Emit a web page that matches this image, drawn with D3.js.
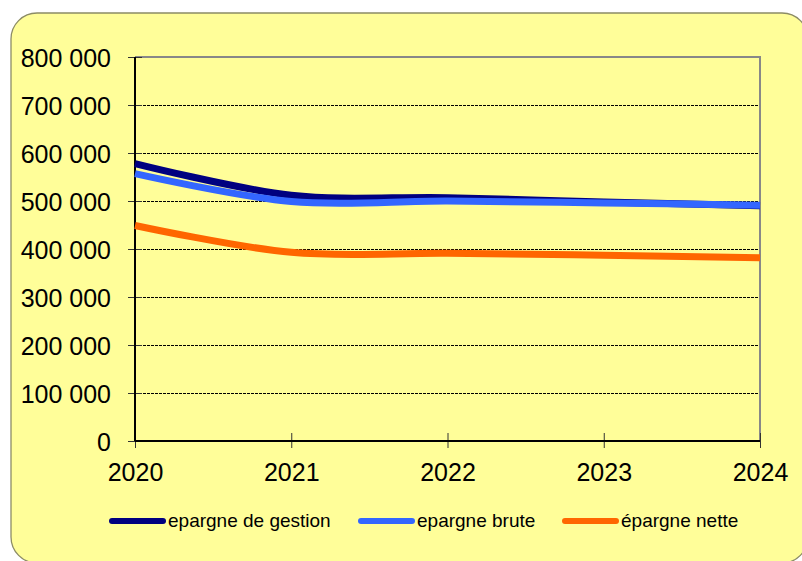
<!DOCTYPE html>
<html>
<head>
<meta charset="utf-8">
<script src="https://cdn.jsdelivr.net/npm/d3@7"></script>
<style>
  html, body { margin: 0; padding: 0; background: #ffffff; }
  svg { display: block; }
  text { font-family: "Liberation Sans", Arial, sans-serif; fill: #000; }
</style>
</head>
<body>
<svg id="chart" width="802" height="561"></svg>
<script>
// Years on the horizontal axis
const years = [2020, 2021, 2022, 2023, 2024];

// Savings series (euros)
const epargneGestion = [578000, 512000, 507000, 498000, 490000];
const epargneBrute   = [557000, 499000, 500000, 496000, 491000];
const epargneNette   = [449000, 393000, 391000, 387000, 382000];

// Series names and y-axis ticks
const seriesNames = ["epargne de gestion", "epargne brute", "épargne nette"];
const yTicks = [0, 100000, 200000, 300000, 400000, 500000, 600000, 700000, 800000];

const colors = ["#000080", "#3366FF", "#FF6600"];

const svg = d3.select("#chart");

// Panel background
svg.append("rect")
  .attr("x", 11).attr("y", 13)
  .attr("width", 797).attr("height", 550)
  .attr("rx", 26).attr("ry", 26)
  .attr("fill", "#FFFE99")
  .attr("stroke", "#8c8c66")
  .attr("stroke-width", 1.3);

const plotLeft = 135, plotRight = 760, plotTop = 57, plotBottom = 441;

const x = d3.scaleLinear().domain([2020, 2024]).range([plotLeft, plotRight]);
const y = d3.scaleLinear().domain([0, 800000]).range([plotBottom, plotTop]);

const fr = d3.formatLocale({ decimal: ",", thousands: " ", grouping: [3], currency: ["", " €"] });
const fmt = fr.format(",.0f");

// Dashed gridlines
svg.append("g")
  .selectAll("line")
  .data(yTicks.filter(d => d > 0 && d < 800000))
  .join("line")
  .attr("x1", plotLeft).attr("x2", plotRight)
  .attr("y1", d => Math.round(y(d)) + 0.5).attr("y2", d => Math.round(y(d)) + 0.5)
  .attr("stroke", "#000")
  .attr("stroke-width", 1)
  .attr("stroke-dasharray", "3,1");

// Plot frame (top and right)
svg.append("path")
  .attr("d", `M${plotLeft},${plotTop}H${plotRight}V${plotBottom}`)
  .attr("fill", "none")
  .attr("stroke", "#888")
  .attr("stroke-width", 2);

// Y axis
const yAxis = svg.append("g")
  .attr("transform", `translate(${plotLeft},0)`)
  .call(d3.axisLeft(y).tickValues(yTicks).tickFormat(fmt).tickSize(7).tickPadding(17));
yAxis.select(".domain").remove();
yAxis.selectAll(".tick line").attr("x1", 7).attr("stroke", "#333").attr("stroke-width", 1);
yAxis.selectAll(".tick text")
  .attr("font-size", 25)
  .attr("font-family", "Liberation Sans, Arial, sans-serif")
  .attr("dy", 9)
  .attr("fill", "#000");

// X axis
const xAxis = svg.append("g")
  .attr("transform", `translate(0,${plotBottom})`)
  .call(d3.axisBottom(x).tickValues(years).tickFormat(d3.format("d")).tickSize(7));
xAxis.select(".domain").remove();
xAxis.selectAll(".tick line").attr("y1", -8).attr("stroke", "#333").attr("stroke-width", 1);
xAxis.selectAll(".tick text")
  .attr("font-size", 25)
  .attr("font-family", "Liberation Sans, Arial, sans-serif")
  .attr("y", 40).attr("dy", 0)
  .attr("fill", "#000");

// Axis lines
svg.append("line")
  .attr("x1", plotLeft).attr("x2", plotLeft).attr("y1", plotTop).attr("y2", plotBottom)
  .attr("stroke", "#000").attr("stroke-width", 2);
svg.append("line")
  .attr("x1", plotLeft).attr("x2", plotRight).attr("y1", plotBottom).attr("y2", plotBottom)
  .attr("stroke", "#000").attr("stroke-width", 2);

// Smoothed lines
const line = d3.line()
  .x((d, i) => x(years[i]))
  .y(d => y(d))
  .curve(d3.curveCardinal.tension(0));

[epargneGestion, epargneBrute, epargneNette].forEach((vals, i) => {
  svg.append("path")
    .datum(vals)
    .attr("d", line)
    .attr("fill", "none")
    .attr("stroke", colors[i])
    .attr("stroke-width", 7)
    .attr("stroke-linejoin", "round");
});

// Legend
const legendX = [112, 361, 565];
const legend = svg.append("g");
seriesNames.forEach((name, i) => {
  legend.append("line")
    .attr("x1", legendX[i]).attr("x2", legendX[i] + 51)
    .attr("y1", 521).attr("y2", 521)
    .attr("stroke", colors[i])
    .attr("stroke-width", 6)
    .attr("stroke-linecap", "round");
  legend.append("text")
    .attr("x", legendX[i] + 56)
    .attr("y", 527)
    .attr("font-size", 19)
    .text(name);
});
</script>
</body>
</html>
